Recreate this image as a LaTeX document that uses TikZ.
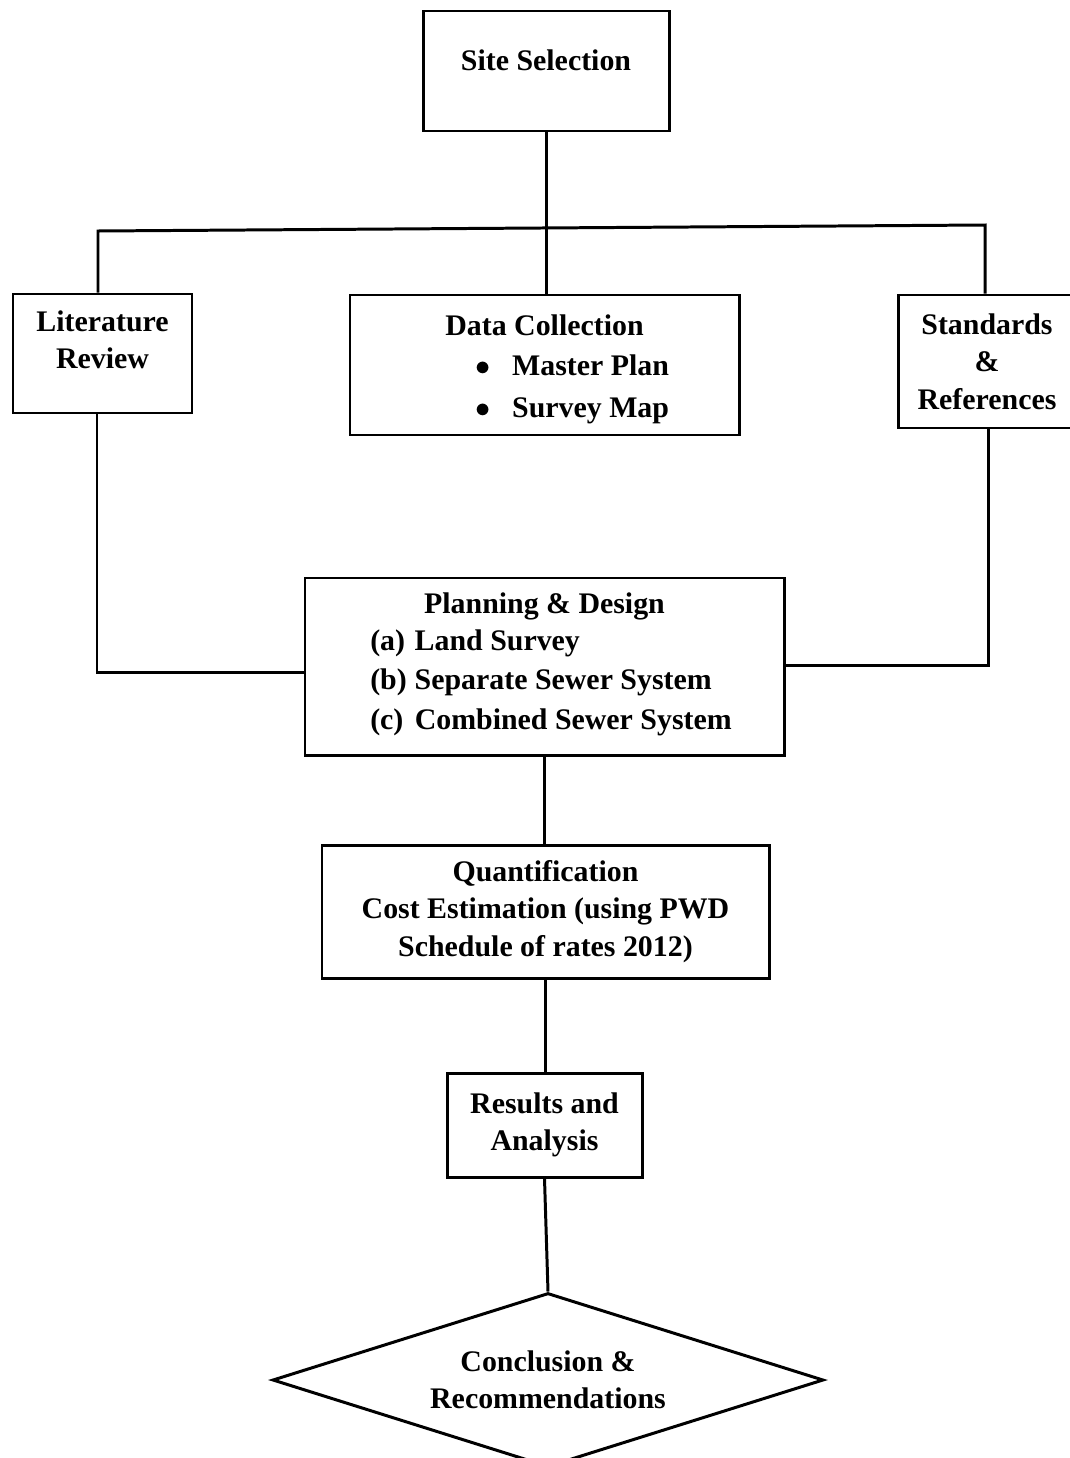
\documentclass[tikz,border=0pt]{standalone}
\usepackage{fontspec}
\setmainfont{Liberation Serif}
\usepackage{tikz}
\usetikzlibrary{positioning, shapes.geometric}
\tikzset{
  box/.style      = {rectangle, draw, line width=1.7pt, inner sep=0pt, align=center,
                     font=\fontsize{17}{21.3}\selectfont\bfseries},
  decision/.style = {diamond, draw, line width=1.7pt, inner sep=0pt, align=center,
                     font=\fontsize{17}{21.3}\selectfont\bfseries},
  link/.style     = {line width=1.7pt}
}

\begin{document}
\begin{tikzpicture}
        \useasboundingbox (0,0) rectangle (21.38,-29.16);
        \node[box, minimum width=4.92cm, minimum height=2.40cm, text depth=0.45cm] (site) at (10.92,-1.42) {Site Selection};
        \node[box, minimum width=3.58cm, minimum height=2.38cm, text depth=0.55cm] (lit)  at (2.05,-7.07) {Literature\\Review};
        \node[box, minimum width=7.78cm, minimum height=2.80cm] (data) at (10.89,-7.30)
          {\rule{0pt}{0.7cm}Data Collection\\[1pt]
           \hspace*{1.12cm}\begin{tabular}[t]{@{}l@{\hspace{0.42cm}}l@{}}
             $\bullet$ & Master Plan\\[3pt]
             $\bullet$ & Survey Map
           \end{tabular}};
        \node[box, minimum width=3.56cm, minimum height=2.66cm] (std)  at (19.74,-7.23) {Standards\\\&\\References};
        \node[box, minimum width=9.58cm, minimum height=3.54cm] (plan) at (10.89,-13.33)
          {Planning \& Design\\
           \hspace*{0.26cm}\begin{tabular}[t]{@{}l@{\hspace{0.16cm}}l@{}}
             (a) & Land Survey\\[1pt]
             (b) & Separate Sewer System\\[1pt]
             (c) & Combined Sewer System
           \end{tabular}};
        \node[box, minimum width=8.94cm, minimum height=2.66cm] (quant) at (10.91,-18.23)
          {Quantification\\Cost Estimation (using PWD\\Schedule of rates 2012)};
        \node[box, minimum width=3.90cm, minimum height=2.08cm] (res) at (10.89,-22.50) {Results and\\Analysis};
        \node[decision, minimum width=11.02cm, minimum height=3.48cm, aspect=3.17] (concl) at (10.96,-27.60)
          {Conclusion \&\\Recommendations};
        % branch line under the site box
        \coordinate (busL) at (1.96,-4.62);
        \coordinate (busR) at (19.70,-4.50);
        \coordinate (litX) at (1.94,-13.44);
        \coordinate (stdX) at (19.76,-13.30);
        \draw[link] (site.south) -- (site.south |- data.north);
        \draw[link] (busL |- lit.north) -- (busL) -- (busR) -- (busR |- std.north);
        \draw[link] (litX |- lit.south) -- (litX) -- (plan.west |- litX);
        \draw[link] (stdX |- std.south) -- (stdX) -- (plan.east |- stdX);
        \draw[link] (plan.south) -- (plan.south |- quant.north);
        \draw[link] (quant.south) -- (quant.south |- res.north);
        \draw[link] (res.south) -- (concl.north);
      \end{tikzpicture}
\end{document}
